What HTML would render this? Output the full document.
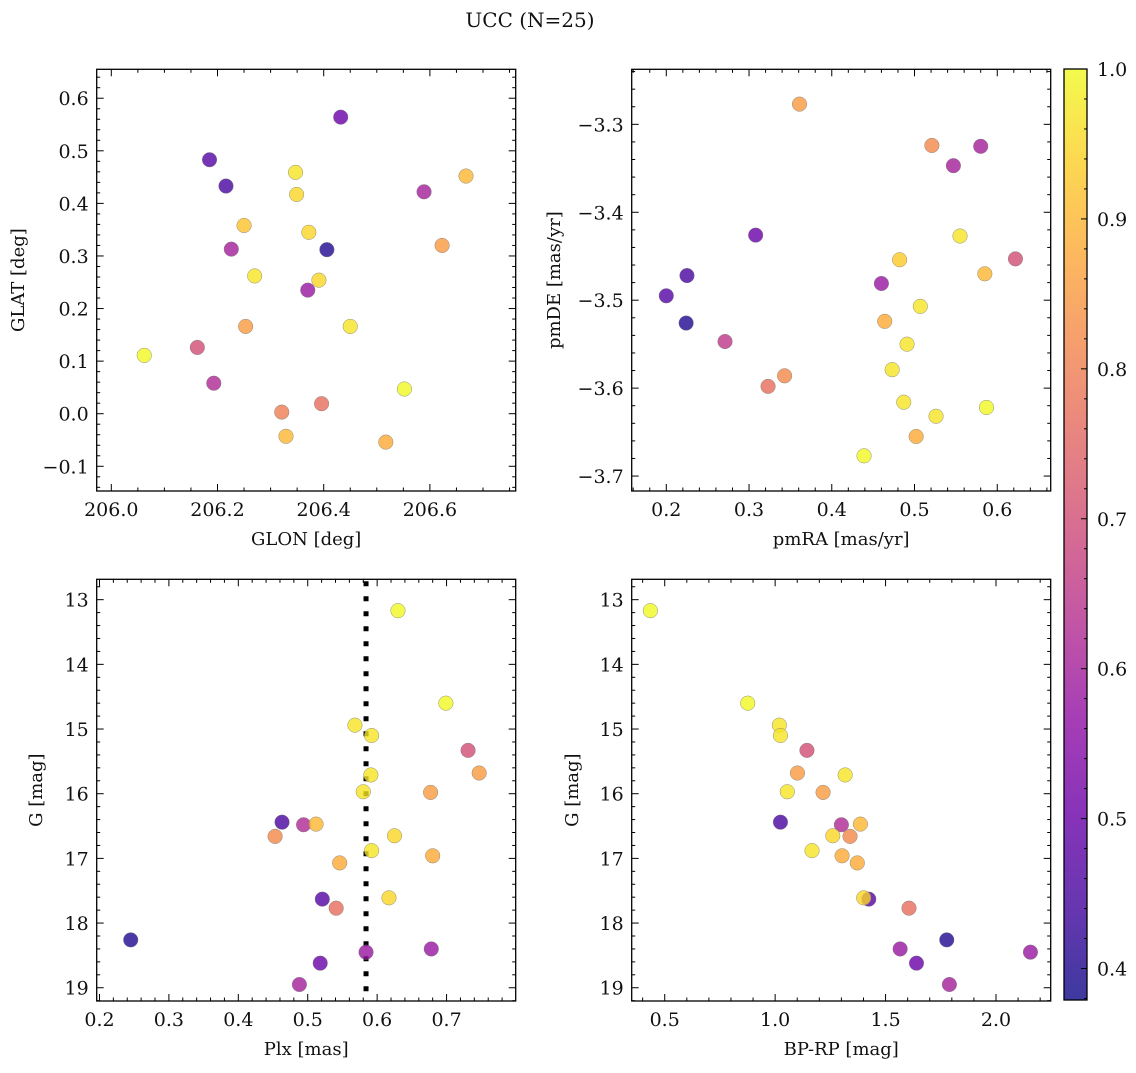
<!DOCTYPE html>
<html><head><meta charset="utf-8">
<style>
html,body{margin:0;padding:0;background:#fff;}
svg text{font-family:"DejaVu Serif","Liberation Serif",serif;fill:#111;}
</style></head>
<body>
<svg id="fig" width="1136" height="1068" viewBox="0 0 1136 1068" xmlns="http://www.w3.org/2000/svg">
<defs>
<linearGradient id="cbgrad" x1="0" y1="1" x2="0" y2="0">
<stop offset="0" stop-color="#0d0887"/><stop offset="0.1" stop-color="#41049d"/><stop offset="0.2" stop-color="#6a00a8"/><stop offset="0.3" stop-color="#8f0da4"/><stop offset="0.4" stop-color="#b12a90"/><stop offset="0.5" stop-color="#cc4778"/><stop offset="0.6" stop-color="#e16462"/><stop offset="0.7" stop-color="#f2844b"/><stop offset="0.8" stop-color="#fca636"/><stop offset="0.9" stop-color="#fcce25"/><stop offset="1" stop-color="#f0f921"/>
</linearGradient>
</defs>
<text x="530" y="27" font-size="20" text-anchor="middle">UCC (N=25)</text>
</svg>
<script>
// ---- data ----
const glon = [206.432,206.185,206.216,206.347,206.349,206.250,206.226,206.406,206.372,206.270,206.391,206.370,206.589,206.668,206.623,206.253,206.450,206.062,206.162,206.193,206.552,206.321,206.396,206.329,206.517];
const glat = [0.564,0.483,0.433,0.459,0.417,0.358,0.313,0.312,0.345,0.262,0.254,0.235,0.422,0.452,0.320,0.166,0.166,0.111,0.126,0.058,0.047,0.003,0.019,-0.043,-0.054];
const prob1 = [0.50,0.47,0.45,0.97,0.95,0.92,0.60,0.40,0.95,0.97,0.95,0.58,0.60,0.90,0.85,0.85,0.97,1.0,0.70,0.62,1.0,0.80,0.77,0.90,0.88];
const pmra = [0.361,0.521,0.580,0.547,0.555,0.308,0.225,0.200,0.224,0.482,0.585,0.622,0.460,0.507,0.464,0.491,0.271,0.473,0.323,0.343,0.487,0.526,0.587,0.502,0.439];
const pmde = [-3.277,-3.324,-3.325,-3.347,-3.427,-3.426,-3.472,-3.495,-3.526,-3.454,-3.470,-3.453,-3.481,-3.507,-3.524,-3.550,-3.547,-3.579,-3.598,-3.586,-3.616,-3.632,-3.622,-3.655,-3.677];
const prob2 = [0.85,0.82,0.60,0.60,0.97,0.50,0.45,0.47,0.40,0.93,0.90,0.70,0.58,0.97,0.88,0.97,0.65,0.97,0.77,0.82,0.97,0.97,1.0,0.88,1.0];
const plx = [0.630,0.699,0.568,0.592,0.731,0.747,0.591,0.580,0.677,0.463,0.494,0.512,0.453,0.625,0.592,0.680,0.546,0.521,0.541,0.617,0.245,0.584,0.678,0.518,0.488];
const gmag = [13.17,14.60,14.94,15.10,15.33,15.68,15.71,15.97,15.98,16.44,16.48,16.47,16.66,16.65,16.88,16.96,17.07,17.63,17.77,17.61,18.26,18.45,18.40,18.62,18.95];
const bprp = [0.435,0.876,1.019,1.024,1.144,1.101,1.317,1.055,1.217,1.024,1.300,1.386,1.339,1.261,1.167,1.303,1.372,1.424,1.606,1.401,1.777,2.156,1.566,1.640,1.789];
const prob3 = [1.0,1.0,0.97,0.97,0.70,0.85,0.97,0.97,0.85,0.45,0.62,0.90,0.82,0.95,0.97,0.88,0.88,0.47,0.77,0.95,0.40,0.58,0.58,0.50,0.60];
const plxLine = [0.584];
const ticks1x = [206.0,206.2,206.4,206.6];
const ticks1y = [-0.1,0.0,0.1,0.2,0.3,0.4,0.5,0.6];
const ticks2x = [0.2,0.3,0.4,0.5,0.6];
const ticks2y = [-3.7,-3.6,-3.5,-3.4,-3.3];
const ticks3x = [0.2,0.3,0.4,0.5,0.6,0.7];
const ticksG = [13,14,15,16,17,18,19];
const ticks4x = [0.5,1.0,1.5,2.0];
const cbTicks = [0.4,0.5,0.6,0.7,0.8,0.9,1.0];

const NS = "http://www.w3.org/2000/svg";
const svg = document.getElementById('fig');
const CMIN = 0.379, CMAX = 1.0;
const FS = 19;
const plasma = [[13,8,135],[65,4,157],[106,0,168],[143,13,164],[177,42,144],[204,71,120],[225,100,98],[242,132,75],[252,166,54],[252,206,37],[240,249,33]];
function cmap(c){
  let t = (c-CMIN)/(CMAX-CMIN); t=Math.max(0,Math.min(1,t));
  const f=t*10, i=Math.min(9,Math.floor(f)), r=f-i;
  const a=plasma[i], b=plasma[i+1];
  return 'rgb('+a.map((v,k)=>Math.round(v+(b[k]-v)*r)).join(',')+')';
}
function mk(tag, attrs, parent){
  const e=document.createElementNS(NS,tag);
  for(const k in attrs) e.setAttribute(k,attrs[k]);
  (parent||svg).appendChild(e); return e;
}
function fmt(v,d){ const s=v.toFixed(d); return s.startsWith('-')? '\u2212'+s.slice(1): s; }

function panel(o){
  const g=mk('g',{});
  
  
  const L=o.box[0],T=o.box[1],R=o.box[2],B=o.box[3];
  const sx=v=>L+(v-o.xr[0])/(o.xr[1]-o.xr[0])*(R-L);
  const sy=o.inv? (v=>T+(v-o.yr[0])/(o.yr[1]-o.yr[0])*(B-T)) : (v=>B-(v-o.yr[0])/(o.yr[1]-o.yr[0])*(B-T));
  const tk=mk('g',{stroke:'#000','stroke-width':1},g);
  
  
  const x0=Math.ceil(o.xr[0]/o.xm-1e-9);
  for(let k=x0; k*o.xm<=o.xr[1]+1e-9; k++){
    const v=k*o.xm, X=sx(v);
    const maj=Math.abs(v/o.xM-Math.round(v/o.xM))<1e-6;
    const len=maj?7:3.5;
    mk('line',{x1:X,x2:X,y1:B,y2:B-len},tk); mk('line',{x1:X,x2:X,y1:T,y2:T+len},tk);
  }
  const ylo=Math.min(o.yr[0],o.yr[1]), yhi=Math.max(o.yr[0],o.yr[1]);
  const y0=Math.ceil(ylo/o.ym-1e-9);
  for(let k=y0; k*o.ym<=yhi+1e-9; k++){
    const v=k*o.ym, Y=sy(v);
    const maj=Math.abs(v/o.yM-Math.round(v/o.yM))<1e-6;
    const len=maj?7:3.5;
    mk('line',{x1:L,x2:L+len,y1:Y,y2:Y},tk); mk('line',{x1:R,x2:R-len,y1:Y,y2:Y},tk);
  }
  o.xt.forEach(v=>{
    const t=mk('text',{x:sx(v),y:B+25,'font-size':FS,'text-anchor':'middle'},g);
    
    
    t.textContent=fmt(v,o.xd);
  });
  o.yt.forEach(v=>{
    const t=mk('text',{x:L-8,y:sy(v)+7,'font-size':FS,'text-anchor':'end'},g);
    
    
    t.textContent=fmt(v,o.yd);
  });
  const xl=mk('text',{x:(L+R)/2,y:B+54,'font-size':18,'text-anchor':'middle'},g);
  
  
  xl.textContent=o.xlab;
  const yl=mk('text',{x:0,y:0,'font-size':18,'text-anchor':'middle',transform:'translate('+o.ylx+','+((T+B)/2)+') rotate(-90)'},g);
  
  
  yl.textContent=o.ylab;
  if(o.vline!==undefined){
    const X=sx(o.vline);
    const ln=mk('line',{x1:X,x2:X,y1:T+2,y2:B,stroke:'#000','stroke-width':5,'stroke-dasharray':'5,10'},g);
    
    
  }
  const pts=mk('g',{},g);
  
  
  o.x.forEach((v,i)=>{
    const c=mk('circle',{cx:sx(v),cy:sy(o.y[i]),r:7.3,fill:cmap(o.c[i]),'fill-opacity':0.8,stroke:'#777','stroke-width':0.5,'stroke-opacity':0.8},pts);
    
    
  });
  const fr=mk('rect',{x:L,y:T,width:R-L,height:B-T,fill:'none',stroke:'#000','stroke-width':1.3},g);
  
  
}

panel({name:'glon-glat-panel',box:[96.7,69.3,515.7,491],xr:[205.9725,206.7616],yr:[-0.147,0.655],
  x:glon,y:glat,c:prob1,xt:ticks1x,yt:ticks1y,xm:0.05,xM:0.2,ym:0.02,yM:0.1,xd:1,yd:1,xlab:'GLON [deg]',ylab:'GLAT [deg]',ylx:24});
panel({name:'pm-panel',box:[631.7,69.3,1050.7,491],xr:[0.1582,0.6646],yr:[-3.717,-3.2374],
  x:pmra,y:pmde,c:prob2,xt:ticks2x,yt:ticks2y,xm:0.02,xM:0.1,ym:0.02,yM:0.1,xd:1,yd:1,xlab:'pmRA [mas/yr]',ylab:'pmDE [mas/yr]',ylx:560});
panel({name:'plx-g-panel',box:[96.7,579.3,515.7,1001],xr:[0.196,0.7996],yr:[12.685,19.205],inv:true,
  x:plx,y:gmag,c:prob3,xt:ticks3x,yt:ticksG,xm:0.02,xM:0.1,ym:0.2,yM:1,xd:1,yd:0,xlab:'Plx [mas]',ylab:'G [mag]',ylx:42,vline:plxLine[0]});
panel({name:'cmd-panel',box:[631.7,579.3,1050.7,1001],xr:[0.3505,2.2477],yr:[12.685,19.205],inv:true,
  x:bprp,y:gmag,c:prob3,xt:ticks4x,yt:ticksG,xm:0.1,xM:0.5,ym:0.2,yM:1,xd:1,yd:0,xlab:'BP-RP [mag]',ylab:'G [mag]',ylx:578});

// colorbar
(function(){
  const L=1064,R=1087,T=69,B=1000;
  const g=mk('g',{});
  
  
  const sy=v=>B-(v-CMIN)/(CMAX-CMIN)*(B-T);
  const r=mk('rect',{x:L,y:T,width:R-L,height:B-T,fill:'url(#cbgrad)','fill-opacity':0.8},g);
  
  
  mk('rect',{x:L,y:T,width:R-L,height:B-T,fill:'none',stroke:'#000','stroke-width':1.3},g);
  for(let k=Math.ceil(CMIN/0.02); k*0.02<=CMAX+1e-9; k++){
    const v=k*0.02, Y=sy(v);
    const maj=Math.abs(v*10-Math.round(v*10))<1e-6;
    mk('line',{x1:R,x2:R-(maj?6:3),y1:Y,y2:Y,stroke:'#000','stroke-width':1},g);
  }
  cbTicks.forEach(v=>{
    const t=mk('text',{x:R+10,y:sy(v)+7,'font-size':FS},g);
    
    
    t.textContent=v.toFixed(1);
  });
})();
</script>
</body></html>
